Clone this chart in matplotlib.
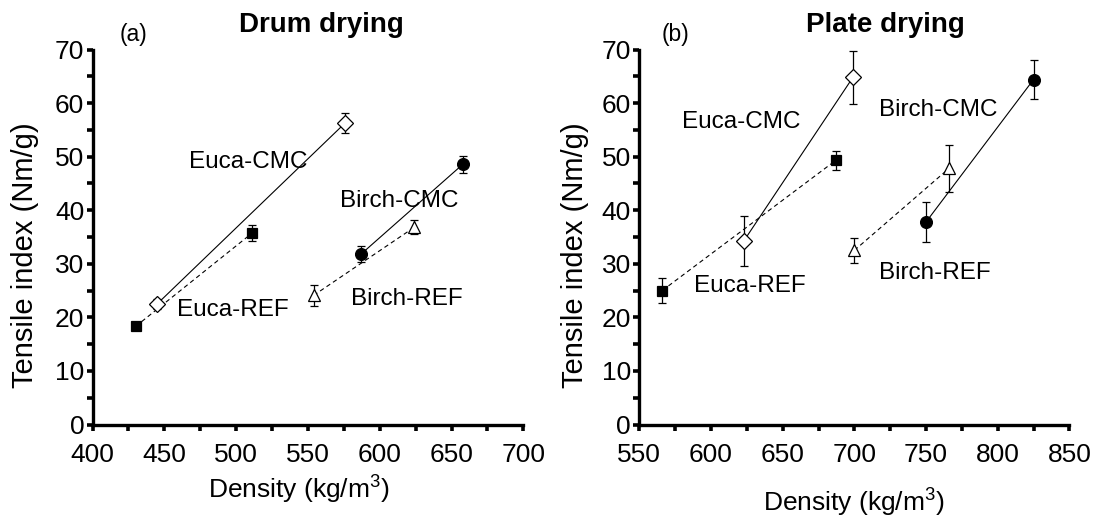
import matplotlib
matplotlib.use('Agg')
import matplotlib.pyplot as plt
from matplotlib.ticker import MultipleLocator

plt.rcParams['font.family'] = 'Liberation Sans'
plt.rcParams['mathtext.fontset'] = 'custom'
plt.rcParams['mathtext.rm'] = 'Liberation Sans'
plt.rcParams['mathtext.it'] = 'Liberation Sans'

# (a) drum drying
drum_euca_ref_x = [430, 511]
drum_euca_ref_y = [18.3, 35.7]
drum_euca_ref_err = [0.7, 1.5]
drum_euca_cmc_x = [445, 576]
drum_euca_cmc_y = [22.5, 56.3]
drum_euca_cmc_err = [1.0, 1.9]
drum_birch_ref_x = [554, 624]
drum_birch_ref_y = [24.1, 36.8]
drum_birch_ref_err = [2.0, 1.3]
drum_birch_cmc_x = [587, 658]
drum_birch_cmc_y = [31.8, 48.6]
drum_birch_cmc_err = [1.5, 1.6]

# (b) plate drying
plate_euca_ref_x = [566, 687]
plate_euca_ref_y = [25.0, 49.3]
plate_euca_ref_err = [2.4, 1.75]
plate_euca_cmc_x = [623, 699]
plate_euca_cmc_y = [34.3, 64.8]
plate_euca_cmc_err = [4.7, 4.9]
plate_birch_ref_x = [700, 766]
plate_birch_ref_y = [32.5, 47.8]
plate_birch_ref_err = [2.4, 4.4]
plate_birch_cmc_x = [750, 825]
plate_birch_cmc_y = [37.8, 64.4]
plate_birch_cmc_err = [3.7, 3.7]

W, H = 1102, 523
fig = plt.figure(figsize=(W / 100, H / 100), dpi=100)


def px(x, y):
    # pixel position (from top-left) -> figure fraction
    return x / W, 1 - y / H


def series(ax, x, y, err, marker, filled, ls):
    face = 'black' if filled else 'white'
    ms = 7 if marker == 's' else 8.5
    ax.errorbar(x, y, yerr=err, fmt='none', ecolor='black', elinewidth=0.9,
                capsize=3, capthick=0.9, zorder=2)
    ax.plot(x, y, ls=ls, color='black', lw=0.8, marker=marker, ms=ms,
            mfc=face, mec='black', mew=0.9, zorder=3,
            dashes=(4, 3) if ls == '--' else (None, None))


def style(ax, xlim):
    ax.patch.set_alpha(0)
    ax.set_xlim(*xlim)
    ax.set_ylim(0, 70)
    ax.xaxis.set_major_locator(MultipleLocator(50))
    ax.xaxis.set_minor_locator(MultipleLocator(25))
    ax.yaxis.set_major_locator(MultipleLocator(10))
    ax.yaxis.set_minor_locator(MultipleLocator(5))
    for s in ('top', 'right'):
        ax.spines[s].set_visible(False)
    for s in ('left', 'bottom'):
        ax.spines[s].set_linewidth(2.4)
        ax.spines[s].set_capstyle('projecting')
    ax.tick_params(which='both', direction='out', length=4.5, width=2.6,
                   labelsize=19)
    ax.tick_params(axis='x', which='major', pad=8.5)
    ax.tick_params(axis='y', which='major', pad=1.5)


ax1 = fig.add_axes([92.5 / W, 1 - 424.5 / H, 430.8 / W, 375 / H])
series(ax1, drum_euca_ref_x, drum_euca_ref_y, drum_euca_ref_err, 's', True, '--')
series(ax1, drum_euca_cmc_x, drum_euca_cmc_y, drum_euca_cmc_err, 'D', False, '-')
series(ax1, drum_birch_ref_x, drum_birch_ref_y, drum_birch_ref_err, '^', False, '--')
series(ax1, drum_birch_cmc_x, drum_birch_cmc_y, drum_birch_cmc_err, 'o', True, '-')
style(ax1, (400, 700))
ax1.text(467, 49, 'Euca-CMC', fontsize=17.5, va='center')
ax1.text(459, 21.3, 'Euca-REF', fontsize=17.5, va='center')
ax1.text(572.5, 41.8, 'Birch-CMC', fontsize=17.5, va='center')
ax1.text(580, 23.5, 'Birch-REF', fontsize=17.5, va='center')

ax2 = fig.add_axes([639.3 / W, 1 - 424.5 / H, 430.1 / W, 375 / H])
series(ax2, plate_euca_ref_x, plate_euca_ref_y, plate_euca_ref_err, 's', True, '--')
series(ax2, plate_euca_cmc_x, plate_euca_cmc_y, plate_euca_cmc_err, 'D', False, '-')
series(ax2, plate_birch_ref_x, plate_birch_ref_y, plate_birch_ref_err, '^', False, '--')
series(ax2, plate_birch_cmc_x, plate_birch_cmc_y, plate_birch_cmc_err, 'o', True, '-')
style(ax2, (550, 850))
ax2.text(580, 56.4, 'Euca-CMC', fontsize=17.5, va='center')
ax2.text(588, 25.8, 'Euca-REF', fontsize=17.5, va='center')
ax2.text(717, 58.7, 'Birch-CMC', fontsize=17.5, va='center')
ax2.text(717, 28.2, 'Birch-REF', fontsize=17.5, va='center')

# axis labels
fig.text(*px(299, 490), r'Density (kg/m$^3$)', fontsize=19, ha='center', va='center')
fig.text(*px(854, 503), r'Density (kg/m$^3$)', fontsize=19, ha='center', va='center')
fig.text(*px(25, 255), 'Tensile index (Nm/g)', fontsize=21, rotation=90,
         ha='center', va='center')
fig.text(*px(575, 255), 'Tensile index (Nm/g)', fontsize=21, rotation=90,
         ha='center', va='center')

# panel tags and titles
fig.text(*px(120, 35), '(a)', fontsize=16.5, va='center', ha='left')
fig.text(*px(321, 25), 'Drum drying', fontsize=20, fontweight='bold',
         va='center', ha='center')
fig.text(*px(662, 35), '(b)', fontsize=16.5, va='center', ha='left')
fig.text(*px(885, 25), 'Plate drying', fontsize=20, fontweight='bold',
         va='center', ha='center')

fig.savefig('out.png', dpi=100)
